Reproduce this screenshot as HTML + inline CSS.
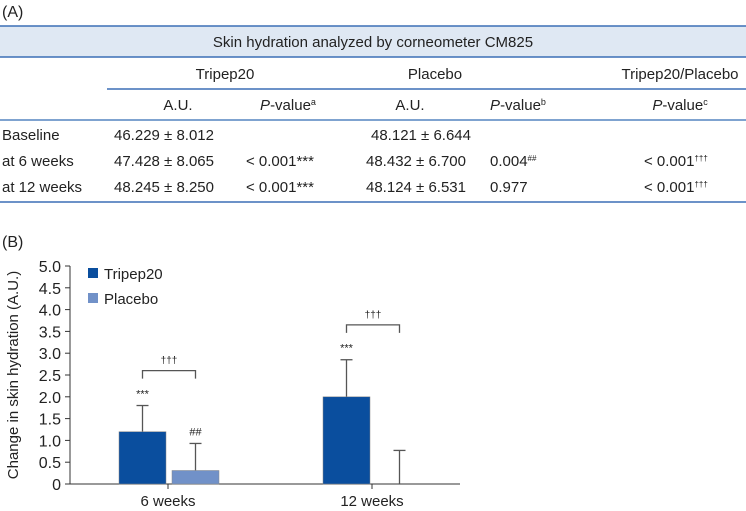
<!DOCTYPE html>
<html><head><meta charset="utf-8"><style>
html,body{margin:0;padding:0;background:#fff;width:746px;height:511px;overflow:hidden}
svg text{font-family:"Liberation Sans",sans-serif;fill:#222}
</style></head><body>
<svg width="746" height="511" viewBox="0 0 746 511" xmlns="http://www.w3.org/2000/svg">
<g font-size="15">
<text x="2" y="17" font-size="16">(A)</text>
<rect x="0" y="26" width="746" height="31" fill="#dfe8f3"/>
<line x1="0" y1="26" x2="746" y2="26" stroke="#3b6fb6" stroke-width="1.5"/>
<line x1="0" y1="57" x2="746" y2="57" stroke="#3b6fb6" stroke-width="1.5"/>
<line x1="107" y1="89" x2="746" y2="89" stroke="#3b6fb6" stroke-width="1.5"/>
<line x1="0" y1="120" x2="746" y2="120" stroke="#7fa3d0" stroke-width="2"/>
<line x1="0" y1="202" x2="746" y2="202" stroke="#3b6fb6" stroke-width="1.5"/>
<text x="373" y="47" text-anchor="middle">Skin hydration analyzed by corneometer CM825</text>
<text x="225" y="79" text-anchor="middle">Tripep20</text>
<text x="435" y="79" text-anchor="middle">Placebo</text>
<text x="680" y="79" text-anchor="middle">Tripep20/Placebo</text>
<text x="178" y="110" text-anchor="middle">A.U.</text>
<text x="288" y="110" text-anchor="middle"><tspan font-style="italic">P</tspan>-value<tspan font-size="9" dy="-5">a</tspan></text>
<text x="410" y="110" text-anchor="middle">A.U.</text>
<text x="518" y="110" text-anchor="middle"><tspan font-style="italic">P</tspan>-value<tspan font-size="9" dy="-5">b</tspan></text>
<text x="680" y="110" text-anchor="middle"><tspan font-style="italic">P</tspan>-value<tspan font-size="9" dy="-5">c</tspan></text>
<text x="2" y="140">Baseline</text><text x="114" y="140">46.229 ± 8.012</text><text x="371" y="140">48.121 ± 6.644</text>
<text x="2" y="166">at 6 weeks</text><text x="114" y="166">47.428 ± 8.065</text><text x="246" y="166">&lt; 0.001***</text><text x="366" y="166">48.432 ± 6.700</text><text x="490" y="166">0.004<tspan font-size="8" dy="-5">##</tspan></text><text x="644" y="166">&lt; 0.001<tspan font-size="8" dy="-5">†††</tspan></text>
<text x="2" y="192">at 12 weeks</text><text x="114" y="192">48.245 ± 8.250</text><text x="246" y="192">&lt; 0.001***</text><text x="366" y="192">48.124 ± 6.531</text><text x="490" y="192">0.977</text><text x="644" y="192">&lt; 0.001<tspan font-size="8" dy="-5">†††</tspan></text>
</g>
<text x="2" y="247" font-size="16">(B)</text>
<g id="chart"></g>
</svg>
<script>
const categories = ["6 weeks", "12 weeks"];
const seriesNames = ["Tripep20", "Placebo"];
const tripepValues = [1.2, 2.0];
const placeboValues = [0.31, 0.0];
const tripepErrors = [0.6, 0.85];
const placeboErrors = [0.62, 0.77];
const yTicks = [0, 0.5, 1.0, 1.5, 2.0, 2.5, 3.0, 3.5, 4.0, 4.5, 5.0];
const tripepMarks = ["***", "***"];
const placeboMarks = ["##", ""];
const compMarks = ["†††", "†††"];

const NS = "http://www.w3.org/2000/svg";
const g = document.getElementById("chart");
const x0 = 70, y0 = 484, yTop = 266, xEnd = 460;
const yS = v => y0 - (v / 5) * (y0 - yTop);
const catX = i => 168 + i * 204;
const bw = 47;
function mk(tag, attrs, parent) {
  const e = document.createElementNS(NS, tag);
  for (const k in attrs) e.setAttribute(k, attrs[k]);
  (parent || g).appendChild(e);
  return e;
}
const colors = ["#0a4e9e", "#7191c8"];
let ax = mk("line", {x1: x0, y1: yTop, x2: x0, y2: y0, stroke: "#333", "stroke-width": 1});


let xa = mk("line", {x1: x0, y1: y0, x2: xEnd, y2: y0, stroke: "#333", "stroke-width": 1});


yTicks.forEach(v => {
  const y = yS(v);
  mk("line", {x1: x0 - 5, y1: y, x2: x0, y2: y, stroke: "#333"});
  const t = mk("text", {x: x0 - 9, y: y + 6, "text-anchor": "end", "font-size": 16});
  t.textContent = v === 0 ? "0" : v.toFixed(1);
  
  
});
const yt = mk("text", {x: 0, y: 0, "text-anchor": "middle", "font-size": 15, transform: "translate(18," + ((y0 + yTop) / 2) + ") rotate(-90)"});
yt.textContent = "Change in skin hydration (A.U.)";


categories.forEach((c, i) => {
  const cx = catX(i);
  mk("line", {x1: cx, y1: y0, x2: cx, y2: y0 + 5, stroke: "#333"});
  const t = mk("text", {x: cx, y: y0 + 22, "text-anchor": "middle", "font-size": 15});
  t.textContent = c;
  
  
  const sets = [[tripepValues, tripepErrors, tripepMarks], [placeboValues, placeboErrors, placeboMarks]];
  sets.forEach((s, j) => {
    const v = s[0][i], e = s[1][i];
    const bx = j === 0 ? cx - 49 : cx + 4;
    const mid = bx + bw / 2;
    mk("line", {x1: mid, y1: yS(v), x2: mid, y2: yS(v + e), stroke: "#555", "stroke-width": 1.3});
    mk("line", {x1: mid - 6, y1: yS(v + e), x2: mid + 6, y2: yS(v + e), stroke: "#555", "stroke-width": 1.3});
    if (v > 0) {
      const r = mk("rect", {x: bx, y: yS(v), width: bw, height: y0 - yS(v), fill: colors[j], stroke: "#888", "stroke-width": 0.5});
      
      
    }
    if (s[2][i]) {
      const m = mk("text", {x: mid, y: yS(v + e) - 8, "text-anchor": "middle", "font-size": 11, fill: "#444"});
      m.textContent = s[2][i];
      
      
    }
  });
  const m1 = cx - 49 + bw / 2, m2 = cx + 4 + bw / 2;
  const top = Math.max(tripepValues[i] + tripepErrors[i], placeboValues[i] + placeboErrors[i]);
  const by = yS(top + 0.8);
  const br = mk("path", {d: `M${m1},${by + 8}V${by}H${m2}V${by + 8}`, fill: "none", stroke: "#555", "stroke-width": 1.3});
  
  
  const ct = mk("text", {x: (m1 + m2) / 2, y: by - 7, "text-anchor": "middle", "font-size": 10, fill: "#444"});
  ct.textContent = compMarks[i];
  
  
});
seriesNames.forEach((n, j) => {
  const y = 268 + j * 25;
  const sw = mk("rect", {x: 88, y: y, width: 10, height: 10, fill: colors[j]});
  
  
  const t = mk("text", {x: 104, y: y + 11, "font-size": 15});
  t.textContent = n;
  
  
});
</script>
</body></html>
